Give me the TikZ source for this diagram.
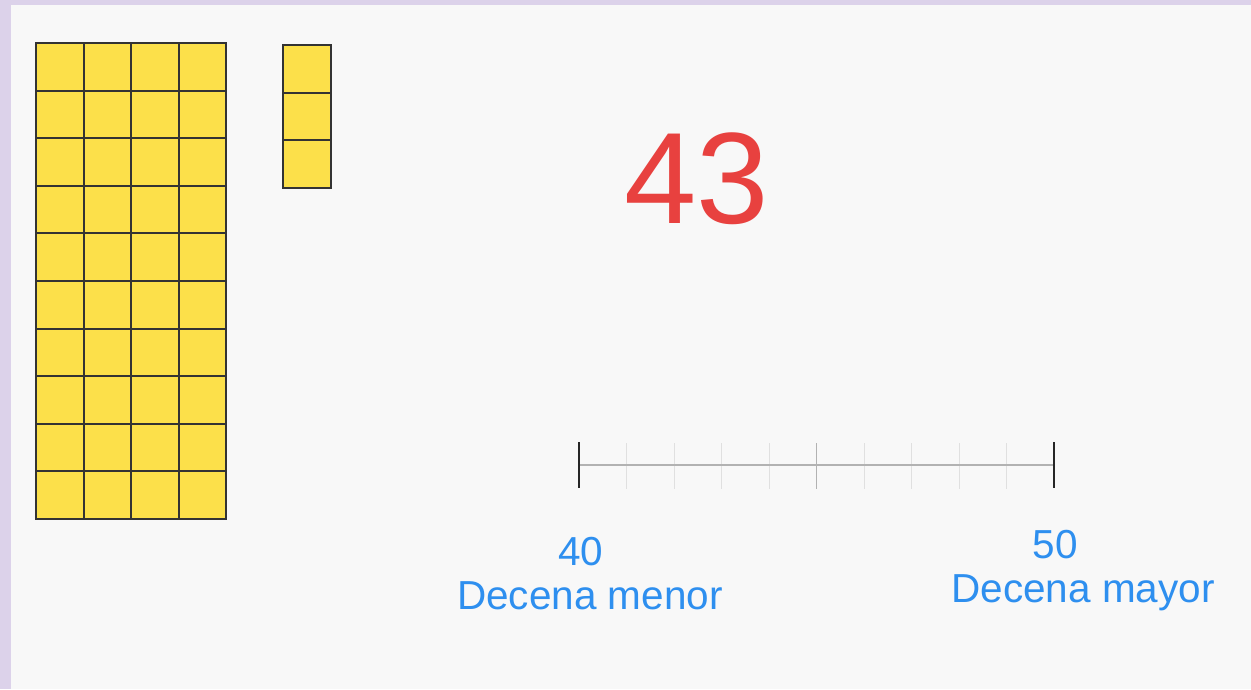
\documentclass[tikz,border=0pt]{standalone}
\usepackage{fontspec}
\setmainfont{Liberation Sans}
\usetikzlibrary{positioning}
\definecolor{bloque}{HTML}{FCE04A}
\definecolor{rojo}{HTML}{E8413F}
\definecolor{azul}{HTML}{2E8FEF}
\definecolor{fondo}{HTML}{F8F8F8}
\definecolor{marco}{HTML}{DCD2EA}
\tikzset{unidad/.style={fill=bloque,draw=black!80,line width=2pt},
  numero/.style={text=rojo,font=\fontsize{130}{130}\selectfont,inner sep=0pt,anchor=base},
  etiqueta/.style={text=azul,font=\fontsize{40.5}{44}\selectfont,inner sep=0pt,anchor=base},
  marca/.style={draw=black!85,line width=2pt},
  submarca/.style={draw=black!12,line width=1pt}}

\begin{document}
\begin{tikzpicture}[x=1pt,y=-1pt]
\fill[marco] (0,0) rectangle (1251,689);
\fill[fondo] (11,5) rectangle (1251,689);
\useasboundingbox (0,0) rectangle (1251,689);
% bloques de decenas
\foreach \i in {0,...,3}
  \foreach \j in {0,...,9}
    \draw[unidad] (36+47.5*\i,43+47.6*\j) rectangle +(47.5,47.6);
% unidades sueltas
\foreach \j in {0,1,2}
  \draw[unidad] (283,45+47.7*\j) rectangle +(48,47.7);
\node[numero] (num) at (697,223) {43};
% recta numerica
\coordinate (a) at (579,465);
\coordinate (b) at (1054,465);
\foreach \k in {1,...,9}
  \draw[submarca] (579+47.5*\k,443) -- ++(0,46);
\draw[submarca,draw=black!30] (816.5,443) -- ++(0,46);
\draw[draw=black!30,line width=1.5pt] (a) -- (b);
\draw[marca] (a) ++(0,-23) -- ++(0,46);
\draw[marca] (b) ++(0,-23) -- ++(0,46);
\node[etiqueta] (n40) at (581,565) {40};
\node[etiqueta] (t40) at (590,609) {Decena menor};
\node[etiqueta] (n50) at (1055,558) {50};
\node[etiqueta] (t50) at (1083,602) {Decena mayor};
\end{tikzpicture}
\end{document}
